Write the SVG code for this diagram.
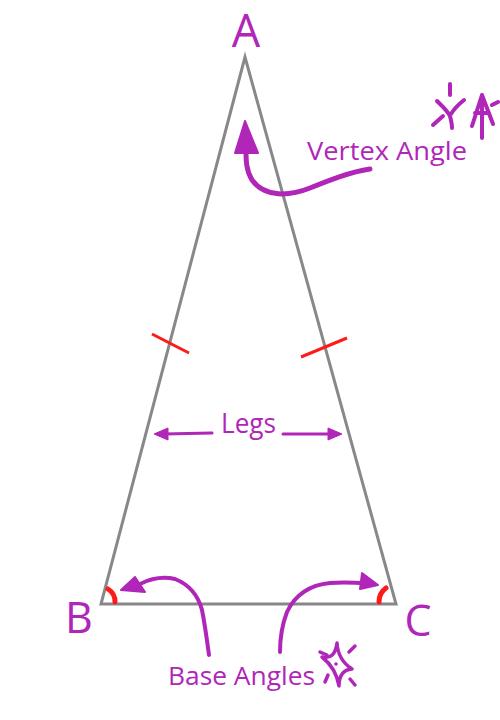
<svg xmlns="http://www.w3.org/2000/svg" width="500" height="720" viewBox="0 0 500 720">
<style>
.lbl{font-family:"Open Sans","Noto Sans","Liberation Sans",sans-serif;fill:#b026b8}
.pen{fill:none;stroke:#b026b8;stroke-linecap:round;stroke-linejoin:round}
.head{fill:#b026b8;stroke:#b026b8;stroke-linejoin:round}
.tick{stroke:#ff1a1a;stroke-width:3;fill:none}
.arc{stroke:#ff1a1a;stroke-width:5;fill:none;stroke-linecap:round}
</style>
<rect width="500" height="720" fill="#fff"/>
<g id="triangle">
<path d="M245,57 L101,604 L396,604 Z" fill="none" stroke="#888" stroke-width="3" stroke-linejoin="miter"/>
<line class="tick" x1="152" y1="334" x2="189" y2="353"/>
<line class="tick" x1="301" y1="357" x2="347" y2="338"/>
<path class="arc" d="M108,589 A15,15 0 0 1 115,602"/>
<path class="arc" d="M386,588 A17,17 0 0 0 379,602"/>
</g>
<g id="label-A"><text class="lbl" x="246" y="47" font-size="45" text-anchor="middle">A</text></g>
<g id="label-B"><text class="lbl" x="79" y="633" font-size="43" text-anchor="middle">B</text></g>
<g id="label-C"><text class="lbl" x="418" y="636" font-size="43" text-anchor="middle">C</text></g>
<g id="label-vertex"><text class="lbl" x="307" y="160" font-size="26" textLength="160" lengthAdjust="spacingAndGlyphs">Vertex Angle</text></g>
<g id="label-legs"><text class="lbl" x="221" y="433" font-size="28" textLength="55" lengthAdjust="spacingAndGlyphs">Legs</text></g>
<g id="label-base"><text class="lbl" x="168" y="685" font-size="26" textLength="147" lengthAdjust="spacingAndGlyphs">Base Angles</text></g>
<g id="connectors">
<path class="pen" stroke-width="5" d="M370,169 C350,172 330,180 310,188 C290,196 265,198 252,180 C246,170 246,160 246,150"/>
<path class="head" stroke-width="2" d="M245,121 L235,153 L258,153 Z"/>
<path class="pen" stroke-width="4" d="M209,655 C207,640 205,625 202,610 C198,595 190,585 175,579 C162,576 150,579 140,584"/>
<path class="head" stroke-width="2" d="M121,590 L135,577 L145,592 Z"/>
<path class="pen" stroke-width="4" d="M280,652 C280,640 282,625 287,612 C295,595 310,585 330,583 C345,582 355,583 364,583"/>
<path class="head" stroke-width="2" d="M378,585 L362,573 L360,589 Z"/>
<line class="pen" stroke-width="3" x1="212" y1="433" x2="164" y2="434"/>
<path class="head" stroke-width="1" d="M154,434 L168,428 L168,440 Z"/>
<line class="pen" stroke-width="3" x1="283" y1="434" x2="332" y2="434"/>
<path class="head" stroke-width="1" d="M342,434 L328,428 L328,440 Z"/>
</g>
<g id="sparkle-top">
<path class="pen" stroke-width="4" d="M450,84 L450,95 M437,101 C442,106 447,110 450,116 C451,120 452,124 452,128 M464,100 C459,104 454,109 451,114 M443,116 L433,125"/>
<path class="pen" stroke-width="4" d="M482,95 L472,126 M482,95 L493,124 M482,95 L482,138 M475,113 L489,113 M492,105 L498,102"/>
</g>
<g id="sparkle-bottom">
<path class="pen" stroke-width="3.5" d="M337,643 Q338,660 352,669 Q339,670 339,686 Q336,668 322,657 Q335,660 337,643 Z"/>
<circle cx="336" cy="664" r="1.8" fill="#b026b8"/>
<path class="pen" stroke-width="3.5" d="M349,652 L355,646 M325,682 L328,675 M350,679 L355,685 M320,652 L327,655"/>
</g>
</svg>
